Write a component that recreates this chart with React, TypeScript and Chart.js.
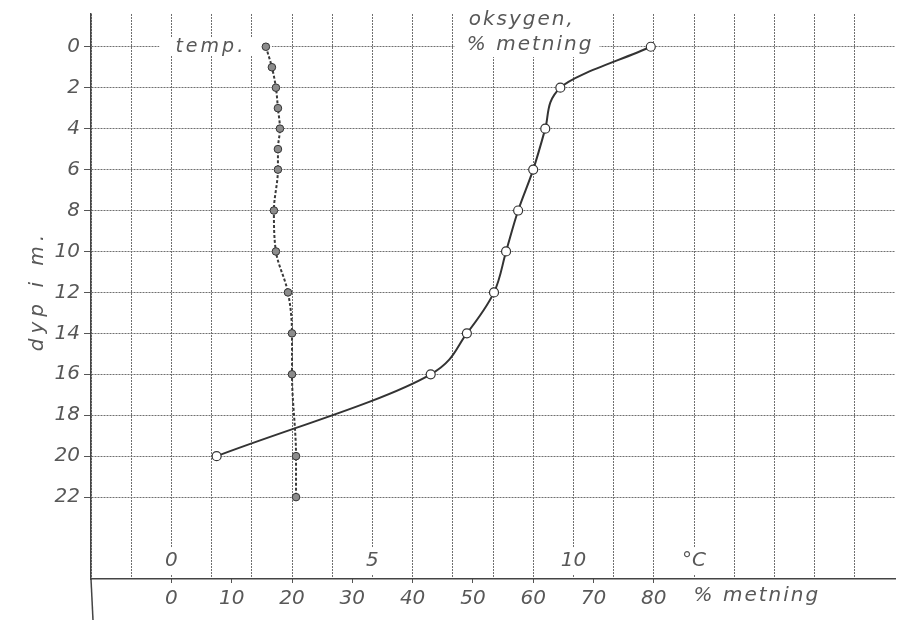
import React, { useEffect, useRef } from 'react';
import { Chart, registerables } from 'chart.js';

Chart.register(...registerables);

// ---- data ----
const tempDepths = [0, 1, 2, 3, 4, 5, 6, 8, 10, 12, 14, 16, 20, 22];
const tempValues = [2.35, 2.5, 2.6, 2.65, 2.7, 2.65, 2.65, 2.55, 2.6, 2.9, 3.0, 3.0, 3.1, 3.1];
const oxyDepths = [0, 2, 4, 6, 8, 10, 12, 14, 16, 20];
const oxyValues = [79.5, 64.5, 62, 60, 57.5, 55.5, 53.5, 49, 43, 7.5];
const depthTicks = [0, 2, 4, 6, 8, 10, 12, 14, 16, 18, 20, 22];
const degreeGrid = [-2, -1, 0, 1, 2, 3, 4, 5, 6, 7, 8, 9, 10, 11, 12, 13, 14, 15, 16, 17];
const degreeLabelValues = [0, 5, 10, 13];
const degreeLabels = ['0', '5', '10', '°C'];
const percentTicks = [0, 10, 20, 30, 40, 50, 60, 70, 80];
const degreeMin = -2;
const degreeMax = 18;
const percentPerDegree = 20 / 3;
const depthMin = -1.6;
const depthMax = 26;

const FONT = 'DejaVu Sans';
const TEXT = '#585858';
const GRID = '#707070';

const textPlugin = {
  id: 'handLabels',
  beforeDatasetsDraw(chart: any) {
    const { ctx, scales, chartArea } = chart;
    const x = scales.x;
    const xp = scales.xp;
    const y = scales.y;
    ctx.save();
    // white gaps behind labels
    ctx.fillStyle = '#ffffff';
    const tx0 = x.getPixelForValue(-0.3);
    const tx1 = x.getPixelForValue(2.5);
    const ty = y.getPixelForValue(0);
    ctx.fillRect(tx0, ty - 9, tx1 - tx0, 18);
    const ox0 = xp.getPixelForValue(47);
    const ox1 = xp.getPixelForValue(71);
    const oy1 = y.getPixelForValue(0.5);
    ctx.fillRect(ox0, chartArea.top - 2, ox1 - ox0, oy1 - chartArea.top + 2);

    ctx.fillStyle = TEXT;
    ctx.textBaseline = 'middle';
    ctx.textAlign = 'left';
    ctx.font = `italic 19px "${FONT}"`;
    (ctx as any).letterSpacing = '3px';
    ctx.fillText('temp.', x.getPixelForValue(0.1), ty);
    ctx.font = `italic 20px "${FONT}"`;
    (ctx as any).letterSpacing = '2px';
    ctx.fillText('oksygen,', xp.getPixelForValue(49.3), y.getPixelForValue(-1.3));
    ctx.fillText('% metning', xp.getPixelForValue(49), y.getPixelForValue(-0.1));
    ctx.restore();
  },
  afterDraw(chart: any) {
    const { ctx, scales, chartArea } = chart;
    const xp = scales.xp;
    ctx.save();
    // y axis continues below the bottom axis
    ctx.strokeStyle = '#444';
    ctx.lineWidth = 1.5;
    ctx.beginPath();
    ctx.moveTo(chartArea.left, chartArea.bottom);
    ctx.lineTo(chartArea.left + 2, chart.height);
    ctx.stroke();
    // axis caption for percent scale
    ctx.fillStyle = TEXT;
    ctx.textBaseline = 'middle';
    ctx.textAlign = 'left';
    ctx.font = `italic 20px "${FONT}"`;
    (ctx as any).letterSpacing = '2px';
    ctx.fillText('% metning', xp.getPixelForValue(86.6), chartArea.bottom + 17);
    // depth caption
    ctx.translate(38, (chartArea.top + chartArea.bottom) / 2 - 6);
    ctx.rotate(-Math.PI / 2);
    ctx.textAlign = 'center';
    (ctx as any).letterSpacing = '5px';
    ctx.fillText('dyp i m.', 0, 0);
    ctx.restore();
  },
};

export default function App() {
  const ref = useRef<HTMLCanvasElement | null>(null);

  useEffect(() => {
    if (!ref.current) return;
    const tickFont = { family: FONT, style: 'italic' as const, size: 20, lineHeight: 1.0 };
    const chart = new Chart(ref.current, {
      type: 'line',
      data: {
        datasets: [
          {
            label: 'temp.',
            xAxisID: 'x',
            yAxisID: 'y',
            indexAxis: 'y',
            data: tempDepths.map((d, i) => ({ x: tempValues[i], y: d })),
            borderColor: '#3a3a3a',
            borderWidth: 2,
            borderDash: [3, 2],
            cubicInterpolationMode: 'monotone',
            pointRadius: 3.8,
            pointBackgroundColor: '#8c8c8c',
            pointBorderColor: '#333',
            pointBorderWidth: 1,
            fill: false,
          } as any,
          {
            label: 'oksygen, % metning',
            xAxisID: 'xp',
            yAxisID: 'y',
            indexAxis: 'y',
            data: oxyDepths.map((d, i) => ({ x: oxyValues[i], y: d })),
            borderColor: '#333',
            borderWidth: 2,
            cubicInterpolationMode: 'monotone',
            pointRadius: 4.5,
            pointBackgroundColor: '#ffffff',
            pointBorderColor: '#333',
            pointBorderWidth: 1.2,
            fill: false,
          } as any,
        ],
      },
      options: {
        responsive: false,
        animation: false,
        layout: { padding: { left: 0, top: 14, right: 8, bottom: 0 } },
        plugins: { legend: { display: false }, tooltip: { enabled: false } },
        events: [],
        scales: {
          x: {
            type: 'linear',
            axis: 'x',
            position: 'bottom',
            weight: 0,
            min: degreeMin,
            max: degreeMax,
            afterBuildTicks: (s: any) => {
              s.ticks = degreeGrid.map((v) => ({ value: v }));
            },
            afterFit: (s: any) => {
              s.height = 0;
            },
            grid: { color: GRID, lineWidth: 1, drawTicks: false },
            border: { display: true, color: '#444', width: 1.5, dash: [2, 1] },
            ticks: {
              autoSkip: false,
              maxRotation: 0,
              mirror: true,
              padding: 8,
              color: TEXT,
              font: tickFont,
              showLabelBackdrop: (c: any) => degreeLabelValues.includes(c.tick?.value),
              backdropColor: '#ffffff',
              backdropPadding: 3,
              callback: (v: any) => {
                const i = degreeLabelValues.indexOf(Number(v));
                return i >= 0 ? degreeLabels[i] : '';
              },
            },
          } as any,
          xp: {
            type: 'linear',
            axis: 'x',
            position: 'bottom',
            weight: 1,
            min: degreeMin * percentPerDegree,
            max: degreeMax * percentPerDegree,
            afterBuildTicks: (s: any) => {
              s.ticks = percentTicks.map((v) => ({ value: v }));
            },
            afterFit: (s: any) => {
              s.height = 41;
            },
            grid: { drawOnChartArea: false, drawTicks: true, tickLength: 4, color: '#555' },
            border: { display: false },
            ticks: {
              autoSkip: false,
              maxRotation: 0,
              padding: 6,
              color: TEXT,
              font: tickFont,
              callback: (v: any) => String(v),
            },
          } as any,
          y: {
            type: 'linear',
            axis: 'y',
            position: 'left',
            reverse: true,
            min: depthMin,
            max: depthMax,
            afterBuildTicks: (s: any) => {
              s.ticks = depthTicks.map((v) => ({ value: v }));
            },
            afterFit: (s: any) => {
              s.width = 91;
            },
            grid: { color: GRID, lineWidth: 1, drawTicks: true, tickLength: 7, tickColor: '#555' },
            border: { display: true, color: '#444', width: 1.5, dash: [2, 1] },
            ticks: {
              autoSkip: false,
              padding: 4,
              color: TEXT,
              font: tickFont,
              callback: (v: any) => String(v),
            },
          } as any,
        },
      } as any,
      plugins: [textPlugin],
    });
    return () => chart.destroy();
  }, []);

  return (
    <div style={{ position: 'absolute', left: 0, top: 0, width: 903, height: 620, background: '#fff' }}>
      <canvas ref={ref} width={903} height={620} />
    </div>
  );
}
